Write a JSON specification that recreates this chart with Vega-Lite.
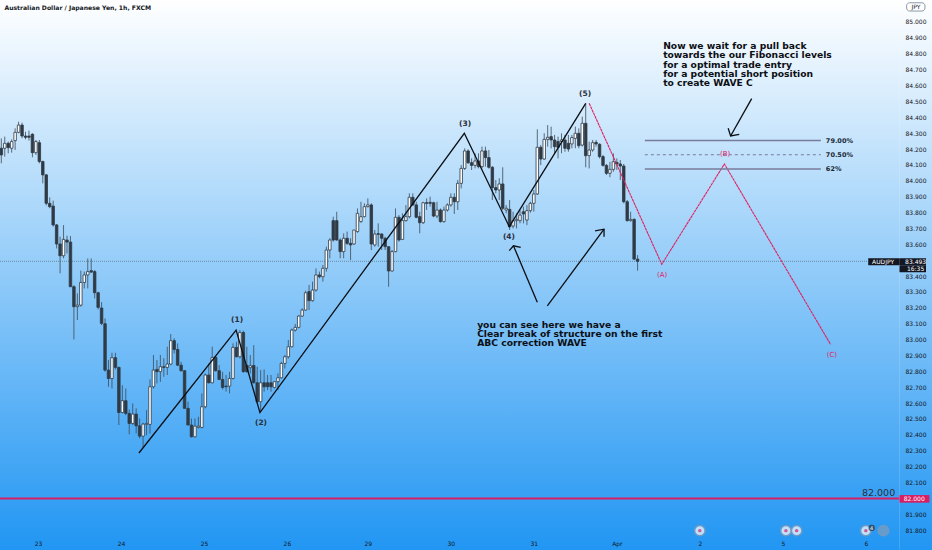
{"$schema":"https://vega.github.io/schema/vega-lite/v6.json","width":932,"height":550,"padding":0,"autosize":{"type":"none"},"background":"#ffffff","config":{"view":{"stroke":null},"axis":{"grid":false,"title":null}},
"datasets":{
"bg":[{"x":-0.376,"x2":269.14,"y":81.675,"y2":85.1385}],
"candles":[
[0,84.205,84.267,84.11,84.163],[1,84.205,84.278,84.152,84.236],[2,84.236,84.247,84.173,84.209],[3,84.205,84.261,84.177,84.247],[4,84.253,84.33,84.194,84.305],[5,84.305,84.372,84.299,84.351],[6,84.351,84.366,84.268,84.282],[7,84.282,84.309,84.261,84.274],[8,84.282,84.316,84.253,84.274],[9,84.293,84.299,84.148,84.177],[10,84.177,84.257,84.163,84.247],[11,84.24,84.257,84.11,84.121],[12,84.121,84.127,83.984,84.037],[13,84.037,84.043,83.845,83.858],[14,83.858,83.896,83.827,83.837],[15,83.841,83.875,83.711,83.722],[16,83.722,83.728,83.574,83.602],[17,83.602,83.648,83.417,83.528],[18,83.528,83.721,83.512,83.631],[19,83.627,83.654,83.543,83.614],[20,83.614,83.652,83.333,83.333],[21,83.333,83.343,83.001,83.207],[22,83.207,83.291,83.123,83.217],[23,83.217,83.434,83.207,83.36],[24,83.36,83.428,83.322,83.407],[25,83.407,83.511,83.322,83.428],[26,83.434,83.511,83.421,83.425],[27,83.428,83.438,83.259,83.295],[28,83.295,83.301,83.19,83.203],[29,83.199,83.236,83.091,83.102],[30,83.1,83.134,82.798,82.808],[31,82.808,82.871,82.703,82.755],[32,82.755,82.917,82.692,82.886],[33,82.886,82.917,82.812,82.825],[34,82.825,82.829,82.462,82.541],[35,82.541,82.713,82.535,82.615],[36,82.615,82.692,82.524,82.535],[37,82.535,82.56,82.403,82.472],[38,82.472,82.598,82.462,82.531],[39,82.531,82.567,82.409,82.457],[40,82.457,82.503,82.378,82.392],[41,82.392,82.476,82.321,82.468],[42,82.466,82.556,82.398,82.472],[43,82.466,82.749,82.409,82.703],[44,82.703,82.903,82.692,82.808],[45,82.812,82.871,82.724,82.798],[46,82.798,82.903,82.734,82.829],[47,82.829,82.882,82.766,82.825],[48,82.825,82.955,82.777,82.846],[49,82.846,83.035,82.839,82.993],[50,82.993,83.008,82.913,82.938],[51,82.938,82.976,82.833,82.839],[52,82.839,82.86,82.798,82.804],[53,82.804,82.808,82.567,82.567],[54,82.567,82.609,82.462,82.462],[55,82.462,82.503,82.384,82.388],[56,82.388,82.503,82.384,82.455],[57,82.447,82.514,82.441,82.455],[58,82.447,82.661,82.441,82.577],[59,82.577,82.787,82.567,82.777],[60,82.777,82.85,82.724,82.728],[61,82.728,82.955,82.724,82.888],[62,82.888,82.896,82.798,82.804],[63,82.804,82.839,82.745,82.749],[64,82.749,82.797,82.686,82.699],[65,82.707,82.777,82.672,82.703],[66,82.707,82.797,82.661,82.755],[67,82.755,82.976,82.749,82.951],[68,82.951,82.986,82.888,82.892],[69,82.892,83.06,82.881,83.045],[70,83.045,83.056,82.791,82.798],[71,82.839,82.955,82.791,82.798],[72,82.823,82.903,82.787,82.835],[73,82.837,82.965,82.724,82.728],[74,82.728,82.829,82.598,82.609],[75,82.609,82.808,82.546,82.728],[76,82.728,82.812,82.672,82.703],[77,82.728,82.777,82.682,82.703],[78,82.728,82.777,82.672,82.703],[79,82.699,82.735,82.692,82.735],[80,82.735,82.787,82.682,82.76],[81,82.76,82.86,82.755,82.85],[82,82.85,82.903,82.818,82.892],[83,82.892,82.997,82.881,82.955],[84,82.955,83.07,82.951,83.06],[85,83.06,83.098,83.05,83.077],[86,83.077,83.154,83.07,83.148],[87,83.148,83.197,83.144,83.186],[88,83.186,83.308,83.182,83.295],[89,83.302,83.344,83.186,83.245],[90,83.245,83.365,83.239,83.312],[91,83.312,83.448,83.302,83.407],[92,83.407,83.428,83.386,83.396],[93,83.396,83.47,83.365,83.449],[94,83.449,83.585,83.428,83.564],[95,83.564,83.638,83.512,83.627],[96,83.749,83.774,83.617,83.627],[97,83.749,83.805,83.623,83.627],[98,83.627,83.638,83.512,83.554],[99,83.554,83.669,83.512,83.638],[100,83.638,83.68,83.596,83.606],[101,83.606,83.638,83.501,83.596],[102,83.602,83.69,83.596,83.69],[103,83.68,83.826,83.673,83.795],[104,83.743,83.868,83.736,83.774],[105,83.774,83.858,83.77,83.837],[106,83.837,83.889,83.833,83.848],[107,83.848,83.858,83.564,83.602],[108,83.596,83.69,83.585,83.665],[109,83.667,83.732,83.585,83.663],[110,83.665,83.669,83.564,83.638],[111,83.638,83.648,83.564,83.585],[112,83.585,83.585,83.333,83.432],[113,83.432,83.564,83.428,83.554],[114,83.554,83.826,83.55,83.77],[115,83.77,83.784,83.617,83.627],[116,83.631,83.795,83.627,83.749],[117,83.749,83.847,83.743,83.774],[118,83.774,83.921,83.764,83.896],[119,83.896,83.921,83.841,83.848],[120,83.848,83.868,83.764,83.77],[121,83.774,83.805,83.669,83.736],[122,83.736,83.868,83.728,83.862],[123,83.862,83.889,83.816,83.858],[124,83.864,83.9,83.837,83.858],[125,83.862,83.868,83.77,83.778],[126,83.778,83.868,83.764,83.816],[127,83.816,83.826,83.736,83.743],[128,83.743,83.837,83.736,83.816],[129,83.816,83.858,83.806,83.848],[130,83.848,83.921,83.837,83.896],[131,83.896,83.921,83.791,83.868],[132,83.868,84.005,83.816,83.984],[133,83.984,84.099,83.952,84.078],[134,84.078,84.204,84.068,84.188],[135,84.188,84.198,84.106,84.114],[136,84.114,84.141,84.068,84.097],[137,84.097,84.173,84.078,84.125],[138,84.125,84.173,84.078,84.089],[139,84.089,84.215,84.078,84.188],[140,84.188,84.215,84.089,84.146],[141,84.146,84.194,84.076,84.085],[142,84.085,84.093,83.879,83.957],[143,83.957,84.005,83.921,83.942],[144,83.942,84.016,83.879,83.98],[145,83.98,84.085,83.816,83.827],[146,83.816,83.847,83.795,83.827],[147,83.82,83.879,83.69,83.711],[148,83.715,83.805,83.7,83.749],[149,83.749,83.795,83.7,83.757],[150,83.749,83.816,83.732,83.784],[151,83.805,83.837,83.732,83.791],[152,83.753,83.847,83.721,83.812],[153,83.812,83.868,83.799,83.858],[154,83.858,83.942,83.806,83.917],[155,83.917,84.324,83.911,84.211],[156,84.211,84.225,84.099,84.137],[157,84.137,84.299,84.131,84.261],[158,84.261,84.351,84.215,84.274],[159,84.278,84.341,84.204,84.257],[160,84.257,84.289,84.173,84.215],[161,84.247,84.278,84.141,84.211],[162,84.247,84.299,84.173,84.257],[163,84.257,84.289,84.183,84.205],[164,84.236,84.289,84.183,84.2],[165,84.232,84.289,84.205,84.272],[166,84.267,84.341,84.205,84.299],[167,84.299,84.33,84.205,84.221],[168,84.225,84.404,84.215,84.362],[169,84.362,84.488,84.085,84.158],[170,84.158,84.246,84.078,84.194],[171,84.194,84.257,84.183,84.24],[172,84.242,84.257,84.215,84.232],[173,84.23,84.236,84.141,84.152],[174,84.152,84.163,84.089,84.097],[175,84.097,84.106,84.037,84.047],[176,84.047,84.12,84.022,84.072],[177,84.072,84.173,84.057,84.12],[178,84.116,84.141,84.068,84.106],[179,84.106,84.131,84.005,84.093],[180,84.093,84.106,83.858,83.868],[181,83.868,83.879,83.743,83.749],[182,83.749,83.805,83.743,83.757],[183,83.757,83.764,83.501,83.507],[184,83.507,83.532,83.434,83.493]],
"lines":[
{"id":"w","k":"wave","x":39.8,"y":82.286},{"id":"w","k":"wave","x":67.9,"y":83.06},{"id":"w","k":"wave","x":74.8,"y":82.54},{"id":"w","k":"wave","x":133.9,"y":84.299},{"id":"w","k":"wave","x":146.9,"y":83.711},{"id":"w","k":"wave","x":169,"y":84.488},
{"id":"a1","k":"wave","x":155,"y":83.235},{"id":"a1","k":"wave","x":148.1,"y":83.591},{"id":"a1h","k":"wave","x":146.9,"y":83.56},{"id":"a1h","k":"wave","x":148.1,"y":83.591},{"id":"a1h","k":"wave","x":150.2,"y":83.581},
{"id":"a2","k":"wave","x":157.9,"y":83.212},{"id":"a2","k":"wave","x":174.3,"y":83.695},{"id":"a2h","k":"wave","x":171.7,"y":83.684},{"id":"a2h","k":"wave","x":174.3,"y":83.695},{"id":"a2h","k":"wave","x":174.3,"y":83.648},
{"id":"a3","k":"wave","x":217,"y":84.517},{"id":"a3","k":"wave","x":210.9,"y":84.282},{"id":"a3h","k":"wave","x":210.2,"y":84.331},{"id":"a3h","k":"wave","x":210.9,"y":84.282},{"id":"a3h","k":"wave","x":213.4,"y":84.293}],
"red":[{"x":170,"y":84.488},{"x":191,"y":83.474},{"x":209.1,"y":84.106},{"x":239.8,"y":82.97}],
"waveLabels":[{"t":"(1)","x":68.2,"y":83.123},{"t":"(2)","x":75.1,"y":82.475},{"t":"(3)","x":134.1,"y":84.358},{"t":"(4)","x":146.8,"y":83.646},{"t":"(5)","x":168.8,"y":84.547}],
"redLabels":[{"t":"(A)","x":191.1,"y":83.407},{"t":"(B)","x":209.3,"y":84.169},{"t":"(C)","x":240.2,"y":82.903}],
"notes":[{"t":"Now we wait for a pull back","x":191.4,"y":84.849},{"t":"towards the our Fibonacci levels","x":191.4,"y":84.792},{"t":"for a optimal trade entry","x":191.4,"y":84.729},{"t":"for a potential short position","x":191.4,"y":84.672},{"t":"to create WAVE C","x":191.4,"y":84.616},{"t":"you can see here we have a","x":137.6,"y":83.092},{"t":"Clear break of structure on the first","x":137.6,"y":83.035},{"t":"ABC correction WAVE","x":137.6,"y":82.979}],
"fib":[{"x":186.1,"x2":237,"y":84.253,"t":"79.00%"},{"x":186.1,"x2":237,"y":84.074,"t":"62%"}],
"fibMid":[{"x":186.1,"x2":237,"y":84.164,"t":"70.50%"}],
"hline":[{"x":-0.376,"x2":259.7,"y":82}],
"last":[{"x":-0.376,"x2":250.7,"y":83.493}],
"icons":[{"x":202,"y":81.797},{"x":226.9,"y":81.797},{"x":230,"y":81.797},{"x":250,"y":81.797}],
"iconsGrey":[{"x":255.1,"y":81.797}],
"iconsDark":[{"x":251.7,"y":81.814,"t":"4"}],
"tagsDark":[{"x":250.7,"x2":267.4,"y":83.512,"y2":83.468},{"x":259.7,"x2":267.4,"y":83.468,"y2":83.424}],
"tagRed":[{"x":259.7,"x2":268.4,"y":82.021,"y2":81.973}],
"tagText":[{"t":"AUDJPY","x":255,"y":83.49},{"t":"83.493","x":264.4,"y":83.49},{"t":"16:35","x":264.4,"y":83.446},{"t":"82.000","x":264,"y":81.997}],
"jpy":[{"x":261.8,"x2":267.1,"y":85.121,"y2":85.069}],
"jpyText":[{"t":"JPY","x":264.5,"y":85.095}],
"title":[{"t":"Australian Dollar / Japanese Yen, 1h, FXCM","x":0.9,"y":85.091}],
"big":[{"t":"82.000","x":258.5,"y":82.036}],
"axisRows":[{"x":100,"y":83}]
},
"data":{"name":"axisRows"},
"encoding":{"x":{"field":"x","type":"quantitative","scale":{"domain":[-0.376,269.14],"nice":false,"zero":false,"padding":0},"axis":{"zindex":1,"orient":"bottom","offset":-13,"values":[10.6,34.6,58.6,82.6,106,130,154,178,202,226,250],"labelExpr":"['23','24','25','26','29','30','31','Apr','2','5','6'][indexof([10.6,34.6,58.6,82.6,106,130,154,178,202,226,250],datum.value)]","labelFontSize":6,"labelFont":"DejaVu Sans","labelColor":"#131722","domain":false,"ticks":false,"labelPadding":3,"labelFlush":false,"labelOverlap":false}},
"y":{"field":"y","type":"quantitative","scale":{"domain":[81.675,85.1385],"nice":false,"zero":false},"axis":{"zindex":1,"orient":"right","offset":-33,"values":[81.8,81.9,82.1,82.2,82.3,82.4,82.5,82.6,82.7,82.8,82.9,83,83.1,83.2,83.3,83.4,83.6,83.7,83.8,83.9,84,84.1,84.2,84.3,84.4,84.5,84.6,84.7,84.8,84.9,85],"format":".3f","labelFontSize":6,"labelFont":"DejaVu Sans","labelColor":"#131722","domainColor":"#ffffff","domainOpacity":0.15,"ticks":false,"labelPadding":6,"labelOverlap":false}}},
"layer":[
{"data":{"name":"bg"},"mark":{"type":"rect","color":{"gradient":"linear","x1":0,"y1":0,"x2":0,"y2":1,"stops":[{"offset":0,"color":"#ffffff"},{"offset":1,"color":"#2196f3"}]}},"encoding":{"x2":{"field":"x2"},"y2":{"field":"y2"}}},
{"data":{"name":"last"},"mark":{"type":"rule","color":"#3a4a5a","strokeDash":[1,1],"strokeWidth":1,"opacity":0.5},"encoding":{"x2":{"field":"x2"}}},
{"data":{"name":"candles"},"transform":[{"calculate":"datum[0]","as":"x"},{"calculate":"datum[1]","as":"o"},{"calculate":"datum[2]","as":"h"},{"calculate":"datum[3]","as":"l"},{"calculate":"datum[4]","as":"c"},{"calculate":"datum.h","as":"y"}],"mark":{"type":"rule","color":"#3f4b57","strokeWidth":1,"opacity":0.8},"encoding":{"y2":{"field":"l"}}},
{"data":{"name":"candles"},"transform":[{"calculate":"datum[0]","as":"x"},{"calculate":"datum[1]","as":"y"},{"calculate":"datum[4]","as":"c"}],"mark":{"type":"bar","size":2.5,"stroke":"#2f3a45","strokeWidth":0.8},"encoding":{"y2":{"field":"c"},"fill":{"condition":{"test":"datum.c>=datum.y","value":"#ffffff"},"value":"#2f3a45"}}},
{"data":{"name":"hline"},"mark":{"type":"rule","color":"#d81e62","strokeWidth":2},"encoding":{"x2":{"field":"x2"}}},
{"data":{"name":"lines"},"mark":{"type":"line","color":"#0c0f14","strokeWidth":1.3},"encoding":{"detail":{"field":"id"}}},
{"data":{"name":"red"},"mark":{"type":"line","color":"#e0205f","strokeWidth":1.1,"strokeDash":[3,0.5]},"encoding":{}},
{"data":{"name":"fib"},"mark":{"type":"rule","color":"#787b9a","strokeWidth":1.5},"encoding":{"x2":{"field":"x2"}}},
{"data":{"name":"fibMid"},"mark":{"type":"rule","color":"#787b9a","strokeWidth":1,"strokeDash":[3,3]},"encoding":{"x2":{"field":"x2"}}},
{"data":{"name":"fib"},"mark":{"type":"text","align":"left","baseline":"middle","dx":5,"font":"DejaVu Sans","fontWeight":"bold","fontSize":6.5,"color":"#1a2a36"},"encoding":{"x":{"field":"x2","type":"quantitative"},"text":{"field":"t"}}},
{"data":{"name":"fibMid"},"mark":{"type":"text","align":"left","baseline":"middle","dx":5,"font":"DejaVu Sans","fontWeight":"bold","fontSize":6.5,"color":"#1a2a36"},"encoding":{"x":{"field":"x2","type":"quantitative"},"text":{"field":"t"}}},
{"data":{"name":"waveLabels"},"mark":{"type":"text","align":"center","baseline":"middle","font":"DejaVu Sans","fontWeight":"bold","fontSize":7.5,"color":"#2a2e39"},"encoding":{"text":{"field":"t"}}},
{"data":{"name":"redLabels"},"mark":{"type":"text","align":"center","baseline":"middle","font":"DejaVu Sans","fontSize":7,"color":"#e0205f"},"encoding":{"text":{"field":"t"}}},
{"data":{"name":"notes"},"mark":{"type":"text","align":"left","baseline":"middle","font":"DejaVu Sans","fontWeight":"bold","fontSize":9.2,"color":"#0c0f14"},"encoding":{"text":{"field":"t"}}},
{"data":{"name":"title"},"mark":{"type":"text","align":"left","baseline":"middle","font":"DejaVu Sans","fontWeight":"bold","fontSize":6.1,"color":"#131722"},"encoding":{"text":{"field":"t"}}},
{"data":{"name":"big"},"mark":{"type":"text","align":"right","baseline":"middle","font":"DejaVu Sans","fontSize":9.5,"color":"#2a2e39"},"encoding":{"text":{"field":"t"}}},
{"data":{"name":"tagsDark"},"mark":{"type":"rect","color":"#131722"},"encoding":{"x2":{"field":"x2"},"y2":{"field":"y2"}}},
{"data":{"name":"tagRed"},"mark":{"type":"rect","color":"#d81e62"},"encoding":{"x2":{"field":"x2"},"y2":{"field":"y2"}}},
{"data":{"name":"jpy"},"mark":{"type":"rect","color":"#ffffff","stroke":"#8a97a8","strokeWidth":1,"cornerRadius":3},"encoding":{"x2":{"field":"x2"},"y2":{"field":"y2"}}},
{"data":{"name":"tagText"},"mark":{"type":"text","align":"center","baseline":"middle","font":"DejaVu Sans","fontSize":6,"color":"#ffffff"},"encoding":{"text":{"field":"t"}}},
{"data":{"name":"jpyText"},"mark":{"type":"text","align":"center","baseline":"middle","font":"DejaVu Sans","fontSize":6,"color":"#131722"},"encoding":{"text":{"field":"t"}}},
{"data":{"name":"icons"},"mark":{"type":"point","filled":true,"shape":"circle","size":110,"color":"#ffffff","stroke":"#8c9ab0","strokeWidth":1.5}},
{"data":{"name":"iconsGrey"},"mark":{"type":"point","filled":true,"shape":"circle","size":110,"color":"#7f9dbd","stroke":"#8c9ab0","strokeWidth":1.5}},
{"data":{"name":"icons"},"mark":{"type":"point","filled":true,"shape":"circle","size":12,"color":"#d81e62"}},
{"data":{"name":"iconsDark"},"mark":{"type":"point","filled":true,"shape":"circle","size":40,"color":"#2a2e39"}},
{"data":{"name":"iconsDark"},"mark":{"type":"text","font":"DejaVu Sans","fontSize":5,"color":"#ffffff","baseline":"middle"},"encoding":{"text":{"field":"t"}}}
]}
